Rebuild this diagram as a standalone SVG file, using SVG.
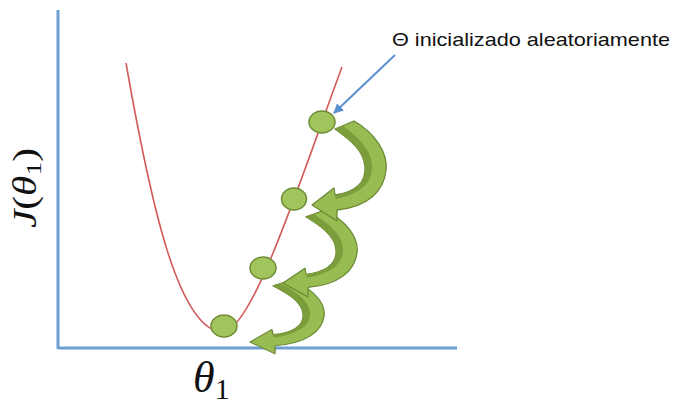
<svg xmlns="http://www.w3.org/2000/svg" width="679" height="404" viewBox="0 0 679 404">
<defs>
<style>
.axis{stroke:#6f9fd3;stroke-width:3;fill:none}
.curve{stroke:#d45a5a;stroke-width:1.6;fill:none}
.dot{fill:#a2c45c;stroke:#6d8c36;stroke-width:1.5}
.garrow{fill:#98bc52;stroke:#6b8a35;stroke-width:1.3;stroke-linejoin:round}
.gshade{fill:#7b9d3c}
.lbl{font-family:"Liberation Serif",serif;fill:#111}
.note{font-family:"Liberation Sans",Arial,sans-serif;font-size:19px;fill:#111}
</style>
<marker id="bluehead" viewBox="0 0 10 10" refX="9" refY="5" markerWidth="5" markerHeight="5" orient="auto">
<path d="M0,0 L10,5 L0,10 Z" fill="#5b8fd0"/>
</marker>
<g id="arrowShape">
<path class="garrow" d="M0 0 L22 -17 L23 -10 C44 -13 54 -22 53 -38 C52 -55 37 -66 23 -76 L42 -84 C63 -72 76 -52 74 -35 C72 -14 56 2 25 5 L25 16 Z"/>
<path class="gshade" d="M23 -76 L31 -79 C46 -68 60 -55 60 -38 C60 -21 47 -11 24 -6 L23 -10 C44 -13 54 -22 53 -38 C52 -55 37 -66 23 -76 Z"/>
</g>
</defs>
<g id="axes">
<line class="axis" x1="58" y1="10" x2="58" y2="349"/>
<line class="axis" x1="58" y1="348" x2="457" y2="348"/>
</g>
<g id="cost-curve">
<path class="curve" d="M126 63 C150 200 178 330 222 332 C252 333 300 180 342 67"/>
</g>
<g id="connectors">
<line x1="395" y1="55" x2="334" y2="113" stroke="#5b8fd0" stroke-width="2" marker-end="url(#bluehead)"/>
<use href="#arrowShape" transform="translate(250,342) scale(1.0,0.74)"/>
<use href="#arrowShape" transform="translate(283,283) scale(1.0,0.87)"/>
<use href="#arrowShape" transform="translate(312,205)"/>
</g>
<g id="point1"><ellipse class="dot" cx="322" cy="122" rx="13" ry="11"/></g>
<g id="point2"><ellipse class="dot" cx="294" cy="199" rx="12.5" ry="11"/></g>
<g id="point3"><ellipse class="dot" cx="263" cy="268" rx="13" ry="11"/></g>
<g id="point4"><ellipse class="dot" cx="224" cy="326" rx="13" ry="11"/></g>
<g id="ylabel">
<text class="lbl" transform="translate(36,228) rotate(-90)" font-size="33" textLength="80" lengthAdjust="spacingAndGlyphs"><tspan font-style="italic">J</tspan>(<tspan font-style="italic">θ</tspan><tspan font-size="22" dy="5">1</tspan><tspan dy="-5">)</tspan></text>
</g>
<g id="xlabel">
<text class="lbl" x="193" y="392" font-size="44"><tspan font-style="italic">θ</tspan><tspan font-size="30" dy="7">1</tspan></text>
</g>
<g id="note">
<text class="note" x="392" y="46" textLength="278" lengthAdjust="spacingAndGlyphs">Θ inicializado aleatoriamente</text>
</g>
</svg>
